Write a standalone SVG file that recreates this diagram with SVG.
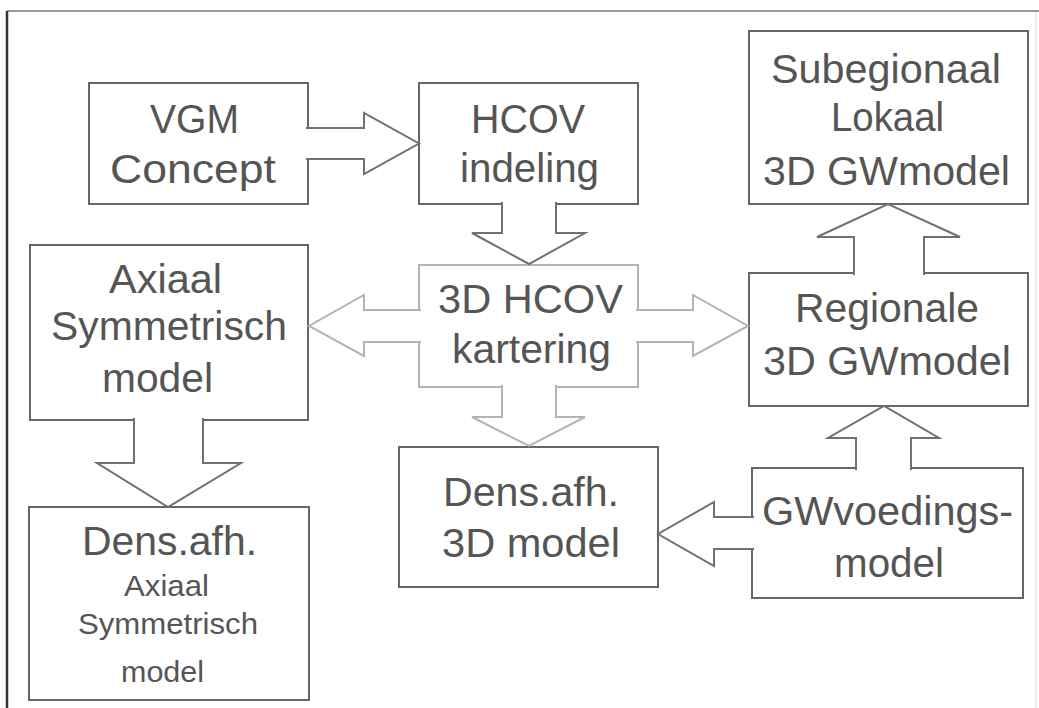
<svg xmlns="http://www.w3.org/2000/svg" width="1039" height="708" viewBox="0 0 1039 708">
<style>
.box{fill:#fff;stroke:#666;stroke-width:2}
.light{fill:#fff;stroke:#b4b4b4;stroke-width:2}
.arr{fill:#fff;stroke:#707070;stroke-width:2;stroke-linejoin:miter}
.arrl{fill:#fff;stroke:#b4b4b4;stroke-width:2;stroke-linejoin:miter}
text{font-family:"Liberation Sans",Arial,sans-serif;fill:#555;font-size:40px}
.sm{font-size:30px}
</style>
<rect x="0" y="0" width="1039" height="708" fill="#fff"/>
<g id="frame">
<path d="M1036,708 V11" fill="none" stroke="#e4e4e4" stroke-width="1.5"/>
<path d="M7,11 H1039" fill="none" stroke="#777" stroke-width="1.5"/>
<path d="M7,708 V11" fill="none" stroke="#333" stroke-width="2.5"/>
</g>
<g id="vgm">
<rect class="box" x="89" y="83" width="219" height="121"/>
<text x="150" y="133" textLength="89" lengthAdjust="spacingAndGlyphs">VGM</text>
<text x="110" y="183" textLength="166" lengthAdjust="spacingAndGlyphs">Concept</text>
</g>
<g id="hcov">
<rect class="box" x="419" y="83" width="219" height="121"/>
<text x="471" y="133" textLength="114" lengthAdjust="spacingAndGlyphs">HCOV</text>
<text x="460" y="182" textLength="139" lengthAdjust="spacingAndGlyphs">indeling</text>
</g>
<g id="sub">
<rect class="box" x="749" y="31" width="279" height="173"/>
<text x="771" y="83" textLength="230" lengthAdjust="spacingAndGlyphs">Subegionaal</text>
<text x="831" y="131" textLength="113" lengthAdjust="spacingAndGlyphs">Lokaal</text>
<text x="763" y="185" textLength="247" lengthAdjust="spacingAndGlyphs">3D GWmodel</text>
</g>
<g id="axiaal">
<rect class="box" x="30" y="245" width="278" height="175"/>
<text x="109" y="293" textLength="113" lengthAdjust="spacingAndGlyphs">Axiaal</text>
<text x="51" y="340" textLength="236" lengthAdjust="spacingAndGlyphs">Symmetrisch</text>
<text x="102" y="392" textLength="111" lengthAdjust="spacingAndGlyphs">model</text>
</g>
<g id="kartering">
<rect class="light" x="419" y="265" width="219" height="122"/>
<text x="438" y="313" textLength="185" lengthAdjust="spacingAndGlyphs">3D HCOV</text>
<text x="452" y="363" textLength="159" lengthAdjust="spacingAndGlyphs">kartering</text>
</g>
<g id="regionale">
<rect class="box" x="749" y="273" width="279" height="133"/>
<text x="795" y="322" textLength="184" lengthAdjust="spacingAndGlyphs">Regionale</text>
<text x="763" y="375" textLength="248" lengthAdjust="spacingAndGlyphs">3D GWmodel</text>
</g>
<g id="dens3d">
<rect class="box" x="399" y="447" width="259" height="140"/>
<text x="443" y="506" textLength="176" lengthAdjust="spacingAndGlyphs">Dens.afh.</text>
<text x="442" y="557" textLength="178" lengthAdjust="spacingAndGlyphs">3D model</text>
</g>
<g id="gwvoeding">
<rect class="box" x="752" y="468" width="271" height="130"/>
<text x="762" y="525" textLength="251" lengthAdjust="spacingAndGlyphs">GWvoedings-</text>
<text x="834" y="577" textLength="110" lengthAdjust="spacingAndGlyphs">model</text>
</g>
<g id="densaxiaal">
<rect class="box" x="29" y="507" width="280" height="193"/>
<text x="82" y="555" textLength="175" lengthAdjust="spacingAndGlyphs">Dens.afh.</text>
<text class="sm" x="124" y="596" textLength="85" lengthAdjust="spacingAndGlyphs">Axiaal</text>
<text class="sm" x="78" y="634" textLength="180" lengthAdjust="spacingAndGlyphs">Symmetrisch</text>
<text class="sm" x="121" y="682" textLength="83" lengthAdjust="spacingAndGlyphs">model</text>
</g>
<g id="connectors">
<path class="arr" d="M306,128 H364 V113 L419,143.5 L364,174 V159 H306"/>
<path class="arr" d="M502,202 V233 H472 L529,264 L585,233 H556 V202"/>
<path class="arrl" d="M421,310 H364 V295 L309,326 L364,356 V342 H421"/>
<path class="arrl" d="M636,310 H693 V295 L748,326 L693,356 V342 H636"/>
<path class="arrl" d="M502,385 V417 H472 L529,446 L585,417 H556 V385"/>
<path class="arr" d="M134,418 V463 H97 L168,507 L241,463 H203 V418"/>
<path class="arr" d="M854,275 V237 H817 L888,204 L960,237 H924 V275"/>
<path class="arr" d="M856,470 V438 H828 L884,406 L939,438 H911 V470"/>
<path class="arr" d="M754,517 H714 V502 L658,534 L714,566 V549 H754"/>
</g>
</svg>
